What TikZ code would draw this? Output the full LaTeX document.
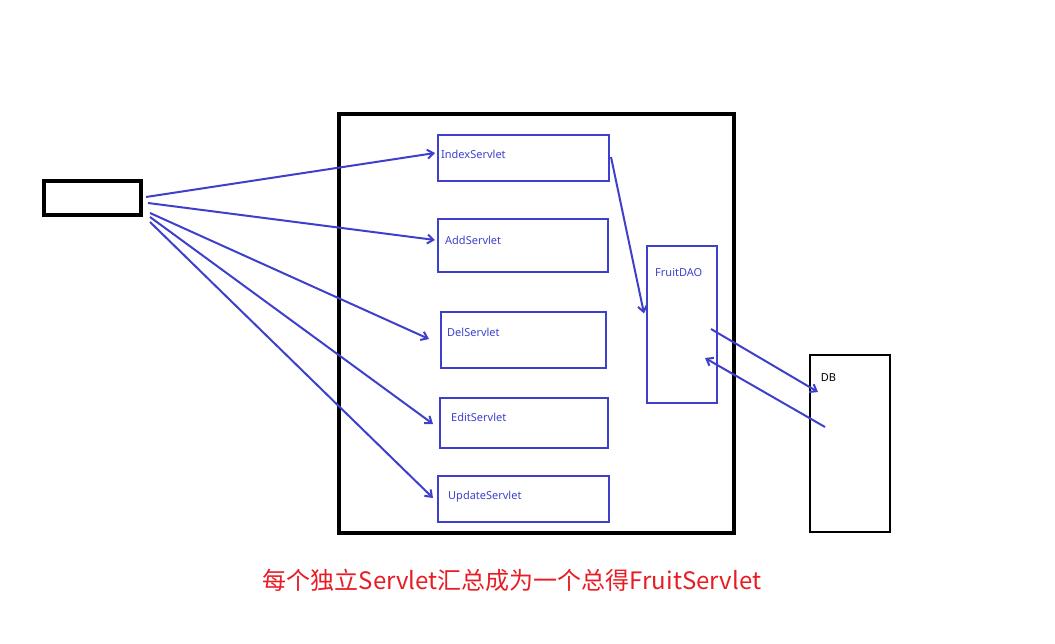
\documentclass[tikz,border=0pt]{standalone}
\usepackage{fontspec}
\setmainfont{Noto Sans}
\newfontfamily\cjk{Noto Sans CJK SC}
\usetikzlibrary{calc,arrows.meta}
\definecolor{pen}{RGB}{62,64,204}
\definecolor{note}{RGB}{232,28,36}
\tikzset{
  box/.style={draw=pen, line width=2pt, inner sep=0pt},
  tag/.style={text=pen, anchor=west, inner sep=0pt, font=\fontsize{11}{13}\selectfont},
  flow/.style={draw=pen, line width=2pt, -{Straight Barb[length=6pt,width=9pt]}},
}
\begin{document}
\begin{tikzpicture}[x=1pt, y=-1pt]
  \useasboundingbox (0,0) rectangle (1055,644);
  \node (client) [draw, line width=3.5pt, minimum width=97pt, minimum height=34pt] at (92.5,198) {};
  \node (web) [draw, line width=4pt, minimum width=395pt, minimum height=419pt] at (536.5,323.5) {};
  \foreach \n/\t/\x/\y/\w/\h/\dx/\dy in {index/IndexServlet/523.5/158/171/46/4/20,
      add/AddServlet/523/245.5/170/53/8/22, del/DelServlet/523.5/340/165/56/7/21,
      edit/EditServlet/524/423/168/50/12/20, update/UpdateServlet/523.5/499/171/46/11/22,
      dao/FruitDAO/682/324.5/70/157/9/28}{
    \node (\n) [box, minimum width=\w pt, minimum height=\h pt] at (\x,\y) {};
    \node (\n-t) [tag] at ($(\n.north west)+(\dx,\dy)$) {\t};
  }
  \node (db) [draw, line width=2.5pt, minimum width=80pt, minimum height=177pt] at (850,443.5) {};
  \node (db-t) [tag, text=black] at ($(db.north west)+(12,24)$) {DB};
  % requests from the browser
  \foreach \i/\x/\y in {1/146/197, 2/148/203, 3/150/213, 4/150/217, 5/150/222}{
    \coordinate (s\i) at (\x,\y);
  }
  \foreach \s/\n/\dx/\dy in {s1/index/-2/-5, s2/add/-2/-5.5, s3/del/-11/-1, s4/edit/-6/1, s5/update/-4/-1}{
    \draw[flow] (\s) -- ($(\n.west)+(\dx,\dy)$);
  }
  \draw[flow] ($(index.east)+(1,-1)$) -- ($(dao.west)+(-2,-11)$);
  \coordinate (daoOut) at (711,329);
  \coordinate (dbIn) at (818,392);
  \coordinate (dbOut) at (825,427);
  \coordinate (daoIn) at (705,358);
  \draw[flow] (daoOut) -- (dbIn);
  \draw[flow] (dbOut) -- (daoIn);
  \node (caption) [text=note, font=\cjk\fontsize{24}{28}\selectfont] at (512,580) {每个独立Servlet汇总成为一个总得FruitServlet};
\end{tikzpicture}
\end{document}
